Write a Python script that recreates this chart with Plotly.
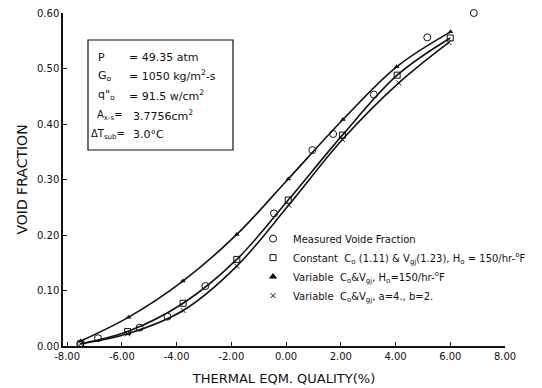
import plotly.graph_objects as go

# Measured void fraction (circles)
meas_x = [-7.52, -6.87, -5.35, -4.33, -2.95, -0.44, 0.96, 1.72, 3.21, 5.16, 6.86]
meas_y = [0.004, 0.014, 0.033, 0.053, 0.108, 0.239, 0.353, 0.382, 0.453, 0.556, 0.600]

# Constant Co & Vgj (squares)
const_x = [-7.5, -5.79, -3.76, -1.80, 0.08, 2.06, 4.06, 6.00]
const_y = [0.004, 0.026, 0.077, 0.156, 0.263, 0.380, 0.488, 0.555]

# Variable Co & Vgj, Ho=150 (triangles)
varh_x = [-7.50, -5.75, -3.77, -1.80, 0.08, 2.08, 4.04, 6.01]
varh_y = [0.009, 0.052, 0.117, 0.201, 0.301, 0.408, 0.503, 0.566]

# Variable Co & Vgj, a=4, b=2 (crosses)
varab_x = [-7.50, -5.79, -3.76, -1.80, 0.10, 2.06, 4.12, 5.95]
varab_y = [0.004, 0.022, 0.064, 0.144, 0.254, 0.372, 0.474, 0.547]

x_ticks = [-8, -6, -4, -2, 0, 2, 4, 6, 8]
x_ticktext = ["-8.00", "-6.00", "-4.00", "-2.00", "0.00", "2.00", "4.00", "6.00", "8.00"]
y_ticks = [0.0, 0.1, 0.2, 0.3, 0.4, 0.5, 0.6]
y_ticktext = ["0.00", "0.10", "0.20", "0.30", "0.40", "0.50", "0.60"]

names = [
    "Measured Voide Fraction",
    "Constant  C<sub>o</sub> (1.11) & V<sub>gj</sub>(1.23), H<sub>o</sub> = 150/hr-<sup>o</sup>F",
    "Variable  C<sub>o</sub>&V<sub>gj</sub>, H<sub>o</sub>=150/hr-<sup>o</sup>F",
    "Variable  C<sub>o</sub>&V<sub>gj</sub>, a=4., b=2.",
]

info_labels = ["P", "G<sub>o</sub>", "q\"<sub>o</sub>", "A<sub>x-s</sub>=", "\u0394T<sub>sub</sub>="]
info_values = ["= 49.35 atm", "= 1050 kg/m<sup>2</sup>-s", "= 91.5 w/cm<sup>2</sup>", "3.7756cm<sup>2</sup>", "3.0\u00b0C"]

FONT = "DejaVu Sans"
BLACK = "#111111"

fig = go.Figure()

line_style = dict(color=BLACK, width=1.6, shape="spline", smoothing=1.0)

fig.add_trace(go.Scatter(x=varh_x, y=varh_y, mode="lines+markers", line=line_style, cliponaxis=False,
                         marker=dict(symbol="triangle-up", size=5, color=BLACK), showlegend=False))
fig.add_trace(go.Scatter(x=const_x, y=const_y, mode="lines+markers", line=line_style, cliponaxis=False,
                         marker=dict(symbol="square-open", size=6, color=BLACK, line=dict(width=1)), showlegend=False))
fig.add_trace(go.Scatter(x=varab_x, y=varab_y, mode="lines+markers", line=line_style, cliponaxis=False,
                         marker=dict(symbol="x-thin-open", size=5, color=BLACK, line=dict(width=1, color=BLACK)), showlegend=False))
fig.add_trace(go.Scatter(x=meas_x, y=meas_y, mode="markers", cliponaxis=False,
                         marker=dict(symbol="circle-open", size=7, color=BLACK, line=dict(width=1)), showlegend=False))

# legend-only entries (markers only)
legend_syms = [("circle-open", 7), ("square-open", 6), ("triangle-up", 6), ("x-thin-open", 5)]
for nm, (sym, sz) in zip(names, legend_syms):
    fig.add_trace(go.Scatter(x=[None], y=[None], mode="markers", name=nm,
                             marker=dict(symbol=sym, size=sz, color=BLACK, line=dict(width=1, color=BLACK))))

# info box (positions given in window pixels; plot area spans 63..505 x 13..346)
fig.add_shape(type="rect", xref="paper", yref="paper",
              x0=(88 - 63) / 442, x1=(233 - 63) / 442, y0=(346 - 150) / 333, y1=(346 - 40) / 333,
              line=dict(color=BLACK, width=1.2))
row_y = [57, 76, 95, 115, 134]
label_x = [96, 96, 96, 95, 89]
label_size = [11, 11, 11, 10, 10]
value_x = [127, 127, 127, 131, 131]
for lab, val, py, lx, ls, vx in zip(info_labels, info_values, row_y, label_x, label_size, value_x):
    yy = (346 - py) / 333
    fig.add_annotation(xref="paper", yref="paper", x=(lx - 63) / 442, y=yy, text=lab,
                       showarrow=False, xanchor="left", yanchor="middle",
                       font=dict(family=FONT, size=ls, color=BLACK))
    fig.add_annotation(xref="paper", yref="paper", x=(vx - 63) / 442, y=yy, text=val,
                       showarrow=False, xanchor="left", yanchor="middle",
                       font=dict(family=FONT, size=11, color=BLACK))

# page body has an 8px margin, so the figure is shrunk/offset accordingly
fig.update_layout(
    width=534, height=380,
    margin=dict(l=55, r=37, t=5, b=42),
    paper_bgcolor="white", plot_bgcolor="white",
    font=dict(family=FONT, color=BLACK),
    legend=dict(x=0.430, y=0.366, xanchor="left", yanchor="top", bgcolor="rgba(0,0,0,0)",
                font=dict(family=FONT, size=10, color=BLACK), tracegroupgap=0, itemwidth=30),
)
fig.update_xaxes(range=[-8.15, 8.0], tickvals=x_ticks, ticktext=x_ticktext, automargin=False,
                 ticklabeloverflow="allow",
                 ticks="inside", ticklen=4, tickcolor=BLACK, showline=True, linecolor=BLACK, linewidth=1.5,
                 showgrid=False, zeroline=False, tickfont=dict(family=FONT, size=10, color=BLACK),
                 title=dict(text="THERMAL EQM. QUALITY(%)", font=dict(family=FONT, size=13, color=BLACK), standoff=13))
fig.update_yaxes(range=[0, 0.6], tickvals=y_ticks, ticktext=y_ticktext, automargin=False,
                 ticklabeloverflow="allow",
                 ticks="inside", ticklen=4, tickcolor=BLACK, showline=True, linecolor=BLACK, linewidth=1.5,
                 showgrid=False, zeroline=False, tickfont=dict(family=FONT, size=10, color=BLACK),
                 title=dict(text="VOID FRACTION", font=dict(family=FONT, size=14, color=BLACK), standoff=6))

fig.write_html("out.html")
